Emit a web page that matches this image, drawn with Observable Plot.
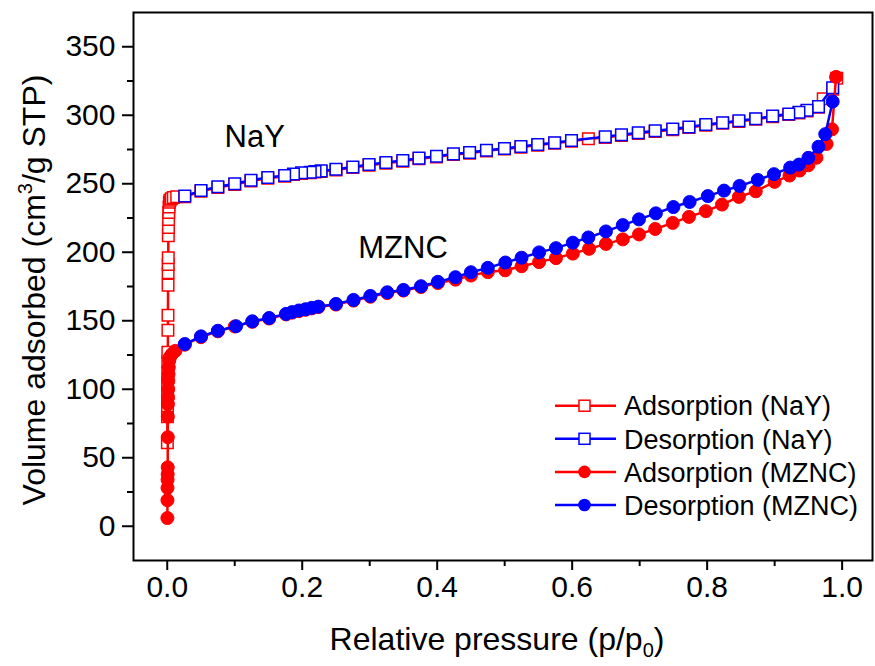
<!DOCTYPE html>
<html><head><meta charset="utf-8">
<script src="https://cdn.jsdelivr.net/npm/d3@7"></script>
<script src="https://cdn.jsdelivr.net/npm/@observablehq/plot@0.6"></script>
<style>
body{margin:0;background:#fff;}
#chart svg{font-family:"Liberation Sans",Arial,sans-serif;}
</style>
</head><body><div id="chart"></div>
<script>
// ---- data ----
const nayAdsX = [0.0002,0.0003,0.0004,0.0005,0.0006,0.0007,0.0008,0.0009,0.001,0.0011,0.0012,0.0013,0.0014,0.0015,0.0016,0.0018,0.002,0.0023,0.0027,0.0032,0.004,0.006,0.009,0.014,
  0.026,0.05,0.075,0.1,0.124,0.149,0.174,0.187,0.199,0.212,0.219,0.228,0.25,0.275,0.299,0.324,0.349,0.373,0.399,0.424,0.448,0.473,0.4997,0.524,0.549,0.574,0.599,0.624,0.649,0.673,0.698,0.723,0.749,0.773,0.798,0.823,0.847,0.872,0.897,0.921,0.936,0.948,0.965,0.972,0.986,0.992];
const nayAdsY = [61,80,88,97,105,112,120,127,143,154,176,185,191,196,212,218,224,229,233,236.5,238,239,240,240.5,
  240.5,244.5,247.3,249.5,252,254,255.5,256.7,257.5,258,258.5,259,260,261.8,263.5,265,266.5,268.2,269.5,271.3,272.3,274,275.3,276.7,278.2,279.5,281.1,282.8,283.8,285.2,286.7,288.2,289.5,291,292.7,294.1,295.5,297,298.9,300.5,301.7,303.2,305.8,312,319,327];
const nayDesX = [0.986,0.965,0.948,0.936,0.921,0.897,0.872,0.847,0.823,0.798,0.773,0.749,0.723,0.698,0.673,0.649,0.599,0.574,0.549,0.524,0.4997,0.473,0.448,0.424,0.399,0.373,0.349,0.324,0.299,0.275,0.25,0.228,0.219,0.212,0.199,0.187,0.174,0.149,0.124,0.1,0.075,0.05,0.026];
const nayDesY = [320,306.3,303.7,302.2,300.9,299.4,297.5,296,294.6,293.2,291.5,290,288.7,287.2,285.7,284.3,281.6,280,278.7,277.2,275.8,274.5,272.8,271.8,270,268.7,267,265.5,264,262.3,260.6,259.4,259,258.4,258,257.2,256,254.5,252.5,250,247.8,245,241];
const mzncAdsX = [0.0002,0.0003,0.0004,0.0005,0.0006,0.0007,0.0008,0.0009,0.001,0.0012,0.0014,0.0016,0.0019,0.0023,0.003,0.004,0.007,0.012,
  0.026,0.05,0.075,0.1,0.126,0.151,0.176,0.185,0.195,0.205,0.214,0.224,0.25,0.276,0.301,0.326,0.35,0.376,0.401,0.427,0.45,0.475,0.5007,0.525,0.551,0.576,0.601,0.625,0.65,0.675,0.699,0.723,0.749,0.773,0.798,0.822,0.847,0.872,0.9,0.922,0.937,0.95,0.962,0.977,0.985,0.991];
const mzncAdsY = [6,19,28,34,38,43,65,80,89,94,100,106,111,116,121,123.5,125.7,128,
  132.5,138,142.3,145.8,149.2,151.6,154.6,155.9,157,158,159,160,161.8,164.7,167.5,170.2,172,174.6,177.5,180,183,185.5,186.8,189.8,192.8,195.7,199,202.5,206.1,209.4,213,217,221.4,225.8,230,234.8,240.4,244.5,251.4,256,259.6,263.5,269,279,289.7,328];
const mzncDesX = [0.986,0.975,0.965,0.95,0.936,0.923,0.899,0.875,0.848,0.825,0.801,0.774,0.75,0.724,0.699,0.675,0.65,0.624,0.601,0.576,0.551,0.525,0.501,0.475,0.45,0.427,0.401,0.376,0.35,0.326,0.301,0.276,0.25,0.224,0.214,0.205,0.195,0.185,0.176,0.151,0.126,0.102,0.075,0.05,0.026];
const mzncDesY = [310,286.2,277,268.9,264,261.8,257,252.8,248.4,245,241,236.7,233,228.4,224,219.8,215.2,210.8,207,203,199.9,196,192.5,188.6,185.4,181.8,178.4,175.2,172.5,170.8,168.1,165.2,162.3,160.3,159.4,158.4,157.5,156.3,155,152,149.6,146,142.7,138.6,133];

const seriesNames = ["Adsorption (NaY)","Desorption (NaY)","Adsorption (MZNC)","Desorption (MZNC)"];
const seriesColors = ["#ff0000","#0000ff","#ff0000","#0000ff"];
const seriesSymbols = ["square","square","circle","circle"];
const seriesFilled = [false,false,true,true];
const seriesX = [nayAdsX,nayDesX,mzncAdsX,mzncDesX];
const seriesY = [nayAdsY,nayDesY,mzncAdsY,mzncDesY];

const xTicks = [0,0.2,0.4,0.6,0.8,1.0];
const xMinor = [0.1,0.3,0.5,0.7,0.9];
const yTicks = [0,50,100,150,200,250,300,350];
const yMinor = [25,75,125,175,225,275,325];

const annotations = [{x:0.085,y:284,label:"NaY"},{x:0.283,y:203,label:"MZNC"}];

// ---- build ----
const W = 875, H = 666;
const marks = [];
seriesNames.forEach((name,i)=>{
  const data = seriesX[i].map((x,j)=>({x, y: seriesY[i][j]}));
  marks.push(Plot.line(data,{x:"x",y:"y",stroke:seriesColors[i],strokeWidth:2.5}));
  marks.push(Plot.dot(data,{x:"x",y:"y",symbol:seriesSymbols[i],r:6.5,
    fill: seriesFilled[i] ? seriesColors[i] : "white",
    stroke: seriesColors[i], strokeWidth: seriesFilled[i]?1:1.5}));
});

const plot = Plot.plot({
  width: W, height: H,
  marginLeft: 133, marginRight: 3, marginTop: 12, marginBottom: 106,
  style: {fontFamily: '"Liberation Sans",Arial,sans-serif', color:"#000", background:"#fff"},
  x: {domain: [-0.05, 1.045]},
  y: {domain: [-25, 375]},
  marks: [
    Plot.axisX({ticks: xTicks, tickFormat: d3.format(".1f"), tickSize: 10, tickPadding: 5, fontSize: 30, label: null, strokeWidth: 2}),
    Plot.axisX({ticks: xMinor, tickFormat: null, text: null, tickSize: 6, label: null, strokeWidth: 2}),
    Plot.axisY({ticks: yTicks, tickFormat: d3.format("d"), tickSize: 11, tickPadding: 7, fontSize: 30, label: null, strokeWidth: 2}),
    Plot.axisY({ticks: yMinor, text: null, tickSize: 6, label: null, strokeWidth: 2}),
    ...marks,
    Plot.text(annotations,{x:"x",y:"y",text:"label",fontSize:31,textAnchor:"start",fill:"#000"}),
    Plot.frame({stroke:"#000", strokeWidth:2})
  ]
});
document.getElementById("chart").appendChild(plot);

// axis titles and legend (text, with sub/superscripts)
const svg = d3.select(plot);
const ff = '"Liberation Sans",Arial,sans-serif';
const xl = svg.append("text").attr("x",497).attr("y",650).attr("text-anchor","middle")
  .attr("font-size",32).attr("font-family",ff).attr("fill","#000");
xl.append("tspan").text("Relative pressure (p/p");
xl.append("tspan").attr("font-size",20).attr("dy",7).text("0");
xl.append("tspan").attr("dy",-7).text(")");

const yl = svg.append("text").attr("transform","translate(45,290) rotate(-90)").attr("text-anchor","middle")
  .attr("font-size",32).attr("font-family",ff).attr("fill","#000");
yl.append("tspan").text("Volume adsorbed (cm");
yl.append("tspan").attr("font-size",20).attr("dy",-13).text("3");
yl.append("tspan").attr("dy",13).text("/g STP)");

const lg = svg.append("g").attr("font-family",ff).attr("font-size",27).attr("text-anchor","start");
seriesNames.forEach((name,i)=>{
  const cy = 405.7 + i*33.1;
  const g = lg.append("g");
  g.append("line").attr("x1",555).attr("x2",616).attr("y1",cy).attr("y2",cy)
    .attr("stroke",seriesColors[i]).attr("stroke-width",2.5);
  if (seriesSymbols[i]==="square") {
    g.append("rect").attr("x",584.5-5.5).attr("y",cy-5.5).attr("width",11).attr("height",11)
      .attr("fill","white").attr("stroke",seriesColors[i]).attr("stroke-width",1.5);
  } else {
    g.append("circle").attr("cx",584.5).attr("cy",cy).attr("r",6.3).attr("fill",seriesColors[i]);
  }
  g.append("text").attr("x",624).attr("y",cy).attr("dy","0.36em").attr("text-anchor","start").attr("fill","#000").text(name);
});
</script>
</body></html>
